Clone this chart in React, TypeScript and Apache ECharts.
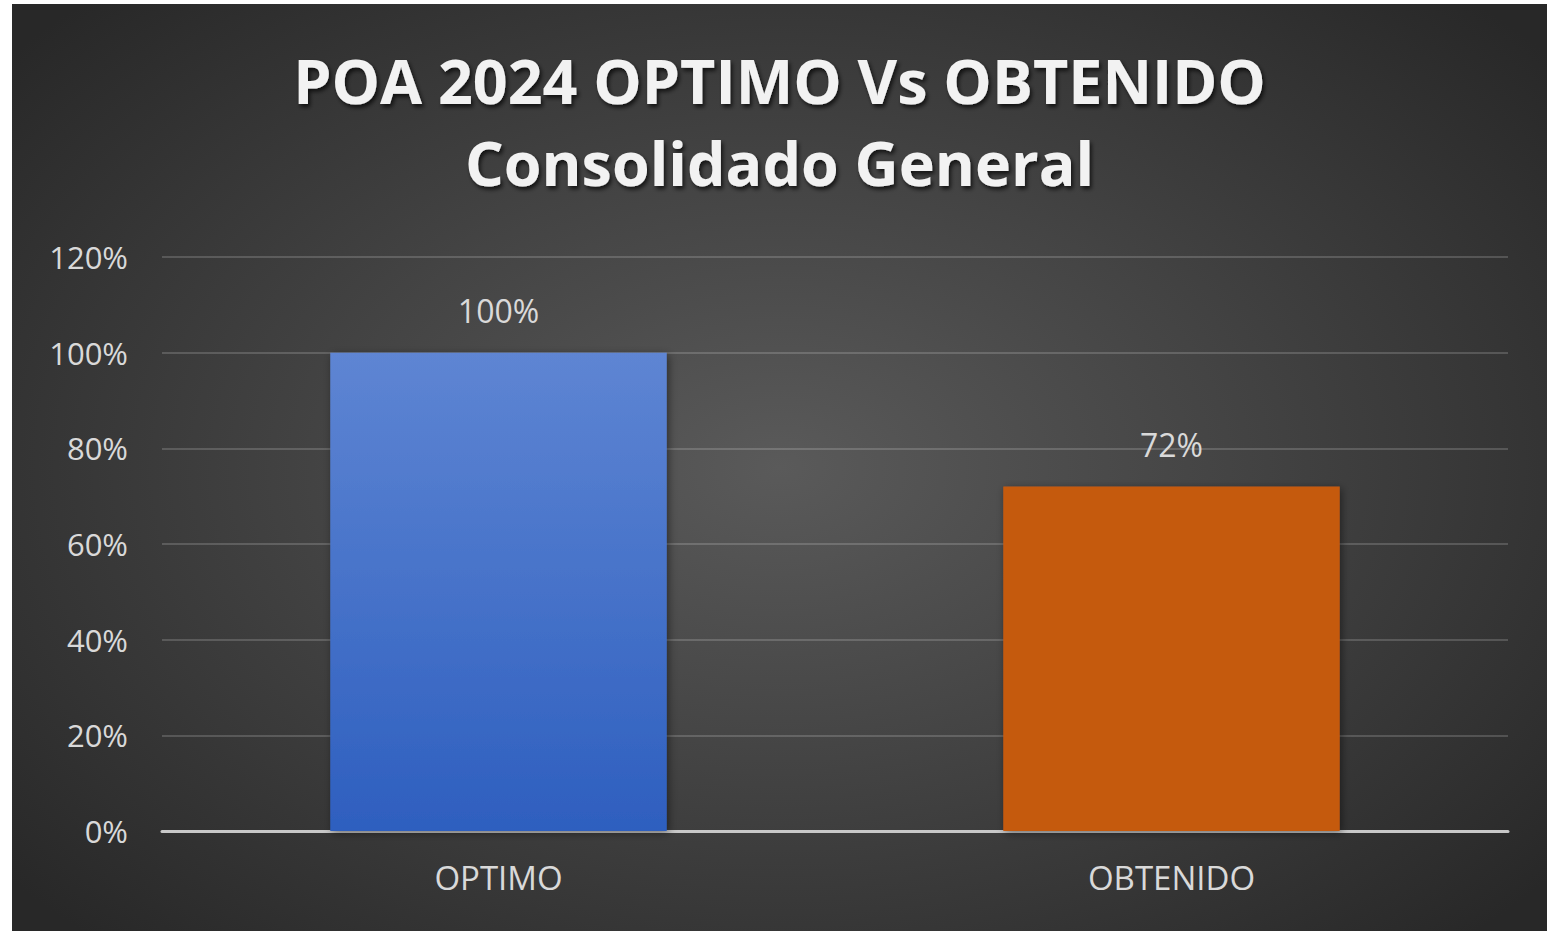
import React, { useEffect, useRef } from "react";
import * as echarts from "echarts";

const categories = ["OPTIMO", "OBTENIDO"];
const values = [1.0, 0.72];
const titleLines = ["POA 2024 OPTIMO Vs OBTENIDO", "Consolidado General"];
const yMin = 0;
const yMax = 1.2;
const yInterval = 0.2;

export default function App() {
  const ref = useRef<HTMLDivElement>(null);
  useEffect(() => {
    if (!ref.current) return;
    const chart = echarts.init(ref.current, undefined, { renderer: "svg" });
    const font = "'Open Sans', 'Noto Sans', sans-serif";
    const barColors = [
      new echarts.graphic.LinearGradient(0, 0, 0, 1, [
        { offset: 0, color: "#5e85d3" },
        { offset: 1, color: "#2e5fbf" },
      ]),
      "#c55a11",
    ];
    chart.setOption({
      animation: false,
      backgroundColor: "transparent",
      title: {
        text: titleLines.join("\n"),
        left: "center",
        top: 30,
        textStyle: {
          color: "#f2f2f2",
          fontFamily: font,
          fontWeight: "bold",
          fontSize: 61,
          lineHeight: 82,
          textShadowColor: "rgba(0,0,0,0.7)",
          textShadowBlur: 4,
          textShadowOffsetX: 2,
          textShadowOffsetY: 3,
        },
      },
      grid: { left: 150, right: 39, top: 253, bottom: 100, containLabel: false },
      xAxis: {
        type: "category",
        data: categories,
        axisLine: { lineStyle: { color: "#c8c8c8", width: 3 } },
        axisTick: { show: false },
        axisLabel: {
          color: "#d9d9d9",
          fontFamily: font,
          fontSize: 33,
          margin: 30,
        },
      },
      yAxis: {
        type: "value",
        min: yMin,
        max: yMax,
        interval: yInterval,
        axisLine: { show: false },
        axisTick: { show: false },
        splitLine: { lineStyle: { color: "rgba(255,255,255,0.17)", width: 2 } },
        axisLabel: {
          color: "#d9d9d9",
          fontFamily: font,
          fontSize: 31,
          margin: 34,
          padding: [0, 0, 4, 0],
          formatter: (v: number) => Math.round(v * 100) + "%",
        },
      },
      series: [
        {
          type: "bar",
          barWidth: "50%",
          data: values.map((v, i) => ({
            value: v,
            itemStyle: {
              color: barColors[i],
              shadowColor: "rgba(0,0,0,0.45)",
              shadowBlur: 8,
              shadowOffsetX: 2,
              shadowOffsetY: 2,
            },
          })),
          label: {
            show: true,
            position: "top",
            distance: 26,
            color: "#d9d9d9",
            fontFamily: font,
            fontSize: 32,
            formatter: (p: any) => Math.round(p.value * 100) + "%",
          },
        },
      ],
    });
    return () => chart.dispose();
  }, []);
  return (
    <div
      ref={ref}
      style={{
        position: "absolute",
        left: 12,
        top: 4,
        width: 1535,
        height: 927,
        background:
          "radial-gradient(ellipse 65% 70% at 50% 50%, #5a5a5a 0%, #444444 45%, #282828 100%)",
      }}
    />
  );
}
